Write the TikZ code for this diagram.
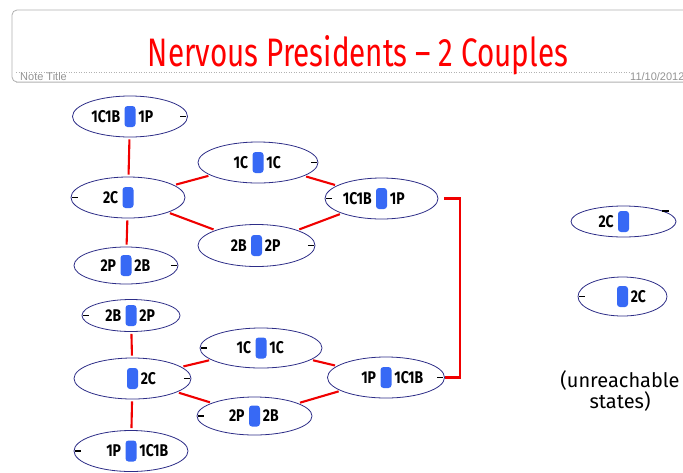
\documentclass[tikz,border=0pt]{standalone}
\usepackage{fontspec}
\usetikzlibrary{shapes.geometric}
\newfontfamily\lblfont[FakeStretch=0.82]{Fira Sans}
\newfontfamily\handfont{Fira Sans}
\newfontfamily\notefont{Liberation Sans}
\definecolor{boat}{RGB}{55,105,245}
\definecolor{rim}{RGB}{45,45,135}
\definecolor{linkred}{RGB}{240,0,0}
\definecolor{frame}{RGB}{175,175,175}

\tikzset{
  state/.style={ellipse, draw=rim, line width=0.8pt, inner sep=0pt},
  boatbox/.style={fill=boat, rounded corners=3pt, minimum width=11pt,
    minimum height=21pt, inner sep=0pt},
  side/.style={font=\lblfont\bfseries\fontsize{17}{17}\selectfont, inner sep=0pt},
  link/.style={draw=linkred, line width=2.1pt, shorten <=2pt, shorten >=2pt},
  dashmark/.style={line width=1.7pt, black},
  notetext/.style={anchor=base west, inner sep=0pt, text=gray!85,
    font=\notefont\fontsize{11}{11}\selectfont},
}

% state: name, x, y, width, height, left bank, right bank
\newcommand\stnode[7]{%
  \node[state, minimum width=#4pt, minimum height=#5pt] (#1) at (#2,#3) {};
  \node[boatbox] (#1b) at (#1.center) {};
  \if\relax\detokenize{#6}\relax\else
    \node[side, anchor=east] (#1l) at ([xshift=-4pt]#1b.west) {#6};\fi
  \if\relax\detokenize{#7}\relax\else
    \node[side, anchor=west] (#1r) at ([xshift=2.5pt]#1b.east) {#7};\fi
}
\newcommand\dashL[1]{\draw[dashmark] ([xshift=1.5pt]#1.west) -- ++(6,0);}
\newcommand\dashR[1]{\draw[dashmark] ([xshift=-7.5pt]#1.east) -- ++(6,0);}

\begin{document}
\begin{tikzpicture}[x=1pt, y=-1pt]
\useasboundingbox (0,0) rectangle (683,472);

% note header
\draw[frame, line width=0.8pt, rounded corners=5pt] (700,10) -- (12,10) -- (12,82) -- (700,82);
\draw[gray!40, line width=1.4pt] (16,82.5) -- (700,82.5);
\draw[gray!60, dotted, line width=0.5pt] (16,72) -- (630,72);
\node[notetext] (notetitle) at (20,80.5) {Note Title};
\node[notetext] (notedate) at (630,80.5) {11/10/2012};
\node[anchor=base, inner sep=0pt, text=red] (title) at (358,66)
  {\resizebox{420pt}{31pt}{\handfont Nervous Presidents \textendash\ 2 Couples}};

% upper family of states
\stnode{A}{130}{116.5}{115}{41}{1C1B}{1P}
\stnode{B}{128}{197.5}{114}{41}{2C}{}
\stnode{C}{126}{265.5}{104}{37}{2P}{2B}
\stnode{D}{258}{162.5}{120}{41}{1C}{1C}
\stnode{E}{381.5}{198.5}{113}{41}{1C1B}{1P}
\stnode{F}{256.5}{245.5}{117}{42}{2B}{2P}

% lower family of states
\stnode{G}{131}{315.5}{98}{32}{2B}{2P}
\stnode{H}{132.5}{378.5}{117}{41}{}{2C}
\stnode{I}{131}{451}{114}{41}{1P}{1C1B}
\stnode{J}{261}{348}{122}{40}{1C}{1C}
\stnode{K}{386}{377.5}{117}{41}{1P}{1C1B}
\stnode{L}{254.5}{416}{115}{38}{2P}{2B}

% unreachable states
\stnode{M}{623.5}{221.5}{105}{31}{2C}{}
\stnode{N}{622.5}{296.5}{89}{39}{}{2C}

% boat-side marks
\dashR{A} \dashL{B} \dashR{C} \dashR{D} \dashL{E} \dashR{F}
\dashL{G} \dashR{H} \dashL{I} \dashL{J} \dashR{K} \dashL{L}
\dashL{N}
\draw[dashmark] ([shift={(-14,-10.5)}]M.east) -- ++(7,0);

% transitions
\draw[link] (A) -- (B);
\draw[link] (B) -- (C);
\draw[link] (B) -- (D);
\draw[link] (B) -- (F);
\draw[link] (D) -- (E);
\draw[link] (F) -- (E);
\draw[link] (G) -- (H);
\draw[link] (H) -- (I);
\draw[link] (H) -- (J);
\draw[link] (H) -- (L);
\draw[link] (J) -- (K);
\draw[link] (L) -- (K);
\coordinate (bx) at (460,0);
\draw[draw=linkred, line width=2.1pt] ([xshift=6pt]E.east) -| (bx |- K.east) -- (K.east);

\node[font=\handfont\fontsize{20}{21}\selectfont, align=center] (note) at (620,391)
  {(unreachable\\states)};
\end{tikzpicture}
\end{document}
